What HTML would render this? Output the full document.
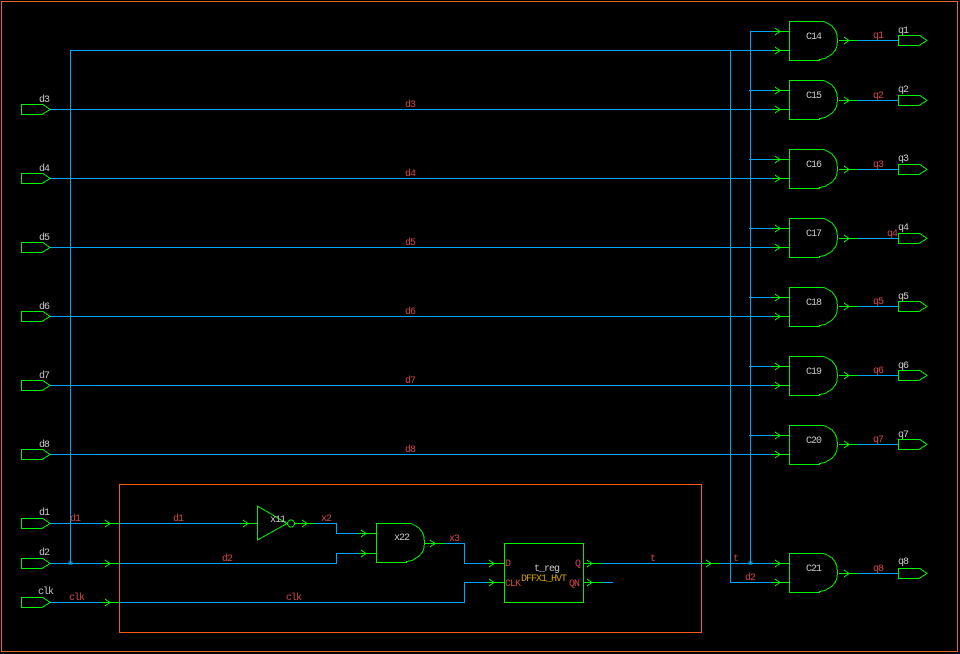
<!DOCTYPE html>
<html>
<head>
<meta charset="utf-8">
<style>
html,body{margin:0;padding:0;background:#000;width:960px;height:654px;overflow:hidden}
svg{display:block}
.b{fill:none;stroke:#00a4ff;stroke-width:1}
.g{fill:none;stroke:#00f000;stroke-width:1}
.o{fill:none;stroke:#ff5a10;stroke-width:1}
text{font-family:"Liberation Mono",monospace;font-size:10px;letter-spacing:-1px}
.w{fill:#c8c8c8}
.r{fill:#d04848}
.y{fill:#d0a000}
</style>
</head>
<body>
<svg width="960" height="654" viewBox="0 0 960 654" xmlns="http://www.w3.org/2000/svg" shape-rendering="crispEdges">
<defs>
<path id="and" d="M0.5 0.5H35L39 2.5L43 5L46.5 9.5L48 14L48.5 19.5L48 25L46.5 29L42.5 33.5L36 37.5L30.5 38.5V39.5H0.5Z" class="g"/>
<path id="ip" d="M21.5 -4.5H43L50 0.5L42 5.5H21.5Z" class="g"/>
<path id="op" d="M898.5 -4.5H920L927 0.5L919 5.5H898.5Z" class="g"/>
<path id="ar" d="M-5 -3L0 0.5L-5 4" class="g"/>
</defs>
<rect x="1.5" y="1.5" width="956" height="650" fill="none" stroke="#e06c28"/>
<rect x="119.5" y="484.5" width="582" height="148" class="o"/>

<!-- blue wires -->
<path class="b" d="M70.5 563.5V50.5H772M730.5 50.5V582.5H772M750.5 563.5V31.5H772M749 90.5H772M749 159.5H772M749 228.5H772M749 297.5H772M749 366.5H772M749 435.5H772"/>
<path class="b" d="M50 109.5H772M50 178.5H772M50 247.5H772M50 316.5H772M50 385.5H772M50 454.5H772"/>
<path class="b" d="M858 40.5H898M858 100.5H898M858 169.5H898M858 238.5H898M858 306.5H898M858 375.5H898M858 444.5H898M858 573.5H898"/>
<path class="b" d="M50 523.5H101M120 523.5H240M50 563.5H101M120 563.5H336.5V553.5H358M50 602.5H101M120 602.5H464.5V582.5H487"/>
<path class="b" d="M315 523.5H336.5V533.5H358M445 543.5H464.5V563.5H487M602 563.5H702M720 563.5H772M602 582.5H613"/>
<path class="b" d="M69 562h3v2h-3zM749 562h3v2h-3z"/>

<!-- green stubs -->
<path class="g" d="M772 31.5H789M772 50.5H789M772 90.5H789M772 109.5H789M772 159.5H789M772 178.5H789M772 228.5H789M772 247.5H789M772 297.5H789M772 316.5H789M772 366.5H789M772 385.5H789M772 435.5H789M772 454.5H789M772 563.5H789M772 582.5H789"/>
<path class="g" d="M839 40.5H858M839 100.5H858M839 169.5H858M839 238.5H858M839 306.5H858M839 375.5H858M839 444.5H858M839 573.5H858"/>
<path class="g" d="M101 523.5H120M101 563.5H120M101 602.5H120M240 523.5H257M295 523.5H315M358 533.5H376M358 553.5H376M425 543.5H445M487 563.5H504M487 582.5H504M584 563.5H602M584 582.5H602M702 563.5H720"/>

<!-- gates -->
<use href="#and" x="789" y="21"/>
<use href="#and" x="789" y="80"/>
<use href="#and" x="789" y="149"/>
<use href="#and" x="789" y="218"/>
<use href="#and" x="789" y="287"/>
<use href="#and" x="789" y="356"/>
<use href="#and" x="789" y="425"/>
<use href="#and" x="789" y="553"/>
<use href="#and" x="376" y="523"/>

<!-- inverter -->
<path class="g" d="M257.5 506V540L287 523.5Z"/>
<circle class="g" cx="291" cy="523.5" r="3.5"/>

<!-- flop -->
<rect class="g" x="504.5" y="543.5" width="79" height="59"/>

<!-- input ports -->
<use href="#ip" y="109"/><use href="#ip" y="178"/><use href="#ip" y="247"/><use href="#ip" y="316"/><use href="#ip" y="385"/><use href="#ip" y="454"/><use href="#ip" y="523"/><use href="#ip" y="563"/><use href="#ip" y="602"/>
<!-- output ports -->
<use href="#op" y="40"/><use href="#op" y="100"/><use href="#op" y="169"/><use href="#op" y="238"/><use href="#op" y="306"/><use href="#op" y="375"/><use href="#op" y="444"/><use href="#op" y="573"/>

<!-- arrows -->
<use href="#ar" x="780" y="31"/><use href="#ar" x="780" y="50"/><use href="#ar" x="780" y="90"/><use href="#ar" x="780" y="109"/><use href="#ar" x="780" y="159"/><use href="#ar" x="780" y="178"/><use href="#ar" x="780" y="228"/><use href="#ar" x="780" y="247"/><use href="#ar" x="780" y="297"/><use href="#ar" x="780" y="316"/><use href="#ar" x="780" y="366"/><use href="#ar" x="780" y="385"/><use href="#ar" x="780" y="435"/><use href="#ar" x="780" y="454"/><use href="#ar" x="780" y="563"/><use href="#ar" x="780" y="582"/>
<use href="#ar" x="849" y="40"/><use href="#ar" x="849" y="100"/><use href="#ar" x="849" y="169"/><use href="#ar" x="849" y="238"/><use href="#ar" x="849" y="306"/><use href="#ar" x="849" y="375"/><use href="#ar" x="849" y="444"/><use href="#ar" x="849" y="573"/>
<use href="#ar" x="110" y="523"/><use href="#ar" x="110" y="563"/><use href="#ar" x="110" y="602"/>
<use href="#ar" x="248" y="523"/><use href="#ar" x="307" y="523"/><use href="#ar" x="366" y="533"/><use href="#ar" x="366" y="553"/><use href="#ar" x="435" y="543"/><use href="#ar" x="494" y="563"/><use href="#ar" x="494" y="582"/><use href="#ar" x="592" y="563"/><use href="#ar" x="592" y="582"/><use href="#ar" x="711" y="563"/>

<!-- gate labels -->
<g class="w">
<text x="806" y="39">C14</text><text x="806" y="98">C15</text><text x="806" y="167">C16</text><text x="806" y="236">C17</text><text x="806" y="305">C18</text><text x="806" y="374">C19</text><text x="806" y="443">C20</text><text x="806" y="571">C21</text>
<text x="898" y="33">q1</text><text x="898" y="92">q2</text><text x="898" y="161">q3</text><text x="898" y="230">q4</text><text x="898" y="299">q5</text><text x="898" y="368">q6</text><text x="898" y="437">q7</text><text x="898" y="564">q8</text>
<text x="39" y="102">d3</text><text x="39" y="171">d4</text><text x="39" y="240">d5</text><text x="39" y="309">d6</text><text x="39" y="378">d7</text><text x="39" y="447">d8</text><text x="39" y="515">d1</text><text x="39" y="555">d2</text><text x="38" y="594">clk</text>
<text x="270" y="522">x11</text><text x="394" y="540">x22</text><text x="534" y="571">t_reg</text>
</g>
<g class="r">
<text x="873" y="38">q1</text><text x="873" y="98">q2</text><text x="873" y="167">q3</text><text x="887" y="236">q4</text><text x="873" y="304">q5</text><text x="873" y="373">q6</text><text x="873" y="442">q7</text><text x="873" y="571">q8</text>
<text x="405" y="107">d3</text><text x="405" y="176">d4</text><text x="405" y="245">d5</text><text x="405" y="314">d6</text><text x="405" y="383">d7</text><text x="405" y="452">d8</text>
<text x="70" y="521">d1</text><text x="173" y="521">d1</text><text x="222" y="561">d2</text><text x="69" y="600">clk</text><text x="286" y="600">clk</text>
<text x="321" y="521">x2</text><text x="449" y="541">x3</text><text x="650" y="561">t</text><text x="733" y="561">t</text><text x="745" y="580">d2</text>
<text x="505" y="566">D</text><text x="505" y="586">CLK</text><text x="575" y="566">Q</text><text x="569" y="586">QN</text>
</g>
<text class="y" x="521" y="581">DFFX1_HVT</text>
</svg>
</body>
</html>
